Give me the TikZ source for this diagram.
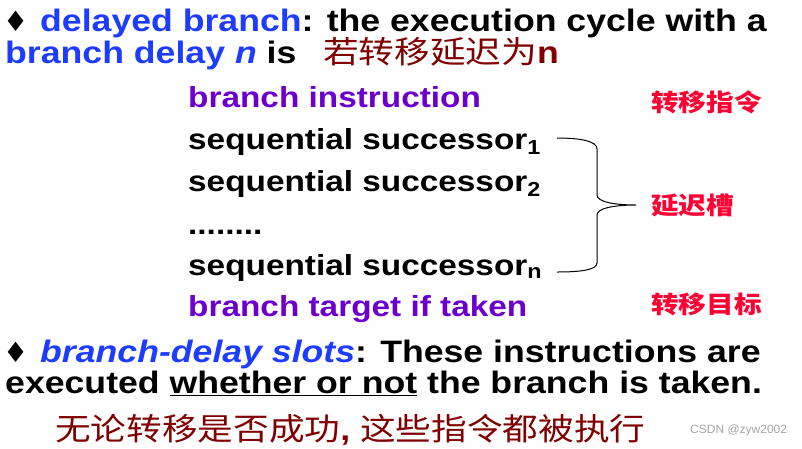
\documentclass[tikz,border=0pt]{standalone}
\usepackage{fontspec}
\setmainfont{Liberation Sans}[FakeStretch=1.15]
\newfontfamily\cjk{Noto Sans CJK SC}[FakeStretch=1.15]
\newfontfamily\symfont{DejaVu Sans}
\newfontfamily\markfont{Liberation Sans}
\usetikzlibrary{positioning}
\definecolor{termblue}{HTML}{1E3CFF}
\definecolor{instpurple}{HTML}{6B00CC}
\definecolor{tagred}{HTML}{FF0033}
\definecolor{cnbrown}{HTML}{800000}
\tikzset{
  bullet/.style={anchor=base west, inner sep=0pt, font=\symfont\fontsize{28}{28}\selectfont},
  headtxt/.style={anchor=base west, inner sep=0pt, font=\bfseries\fontsize{31}{31}\selectfont},
  listtxt/.style={anchor=base west, inner sep=0pt, font=\bfseries\fontsize{29}{29}\selectfont, text=#1},
  tagtxt/.style={anchor=west, inner sep=0pt, text=tagred, font=\cjk\bfseries\fontsize{24}{24}\selectfont},
  cntxt/.style={inner sep=0pt, text=cnbrown, font=\cjk\fontsize{31}{31}\selectfont},
  bracepath/.style={line width=1pt, draw=black},
}

\begin{document}
\begin{tikzpicture}[x=1pt, y=-1pt]
  \useasboundingbox (0,0) rectangle (802,448);
  % definition of the delayed branch
  \node[bullet] (bul1) at (3,31) {♦};
  \node[headtxt] (def1) at (40,31) {\textcolor{termblue}{delayed branch}: the execution cycle with a};
  \node[headtxt] (def1b) at (5,63) {\textcolor{termblue}{branch delay \textit{n}} is};
  \node[cntxt, anchor=base west] (cn1) at (323,63) {若转移延迟为\textbf{\fontspec{Liberation Sans}[FakeStretch=1.15]n}};
  % the instruction sequence
  \node[listtxt=instpurple] (inst) at (188,107) {branch instruction};
  \node[listtxt=black] (succ1) at (188,149) {sequential successor\textsubscript{1}};
  \node[listtxt=black] (succ2) at (188,191) {sequential successor\textsubscript{2}};
  \node[listtxt=black] (dots) at (188,234) {........};
  \node[listtxt=black] (succn) at (188,275) {sequential successor\textsubscript{n}};
  \node[listtxt=instpurple] (target) at (188,316) {branch target if taken};
  % labels on the right
  \node[tagtxt] (tag-inst) at (651,102) {转移指令};
  \node[tagtxt] (tag-slot) at (651,205) {延迟槽};
  \node[tagtxt] (tag-target) at (651,304) {转移目标};
  \draw[bracepath] (557,138) .. controls (580,138) and (597,141) .. (597,149) -- (597,195)
    .. controls (597,202) and (615,205) .. (636,205)
    .. controls (615,205) and (597,208) .. (597,215) -- (597,263)
    .. controls (597,270) and (580,272) .. (557,272);
  % the slots
  \node[bullet] (bul2) at (3,362) {♦};
  \node[headtxt] (def2) at (40,362) {\textcolor{termblue}{\textit{branch-delay slots}}: These instructions are};
  \node[headtxt] (def2b) at (5,393) {executed \underline{whether or not} the branch is taken.};
  \node[cntxt, anchor=west] (cn2) at (55,430) {无论转移是否成功{\fontspec{Liberation Sans}[FakeStretch=1.15]\bfseries, }这些指令都被执行};
  \node[anchor=west, inner sep=0pt, text=black!35, font=\markfont\fontsize{12}{12}\selectfont] (mark) at (690,430) {CSDN @zyw2002};
\end{tikzpicture}
\end{document}
